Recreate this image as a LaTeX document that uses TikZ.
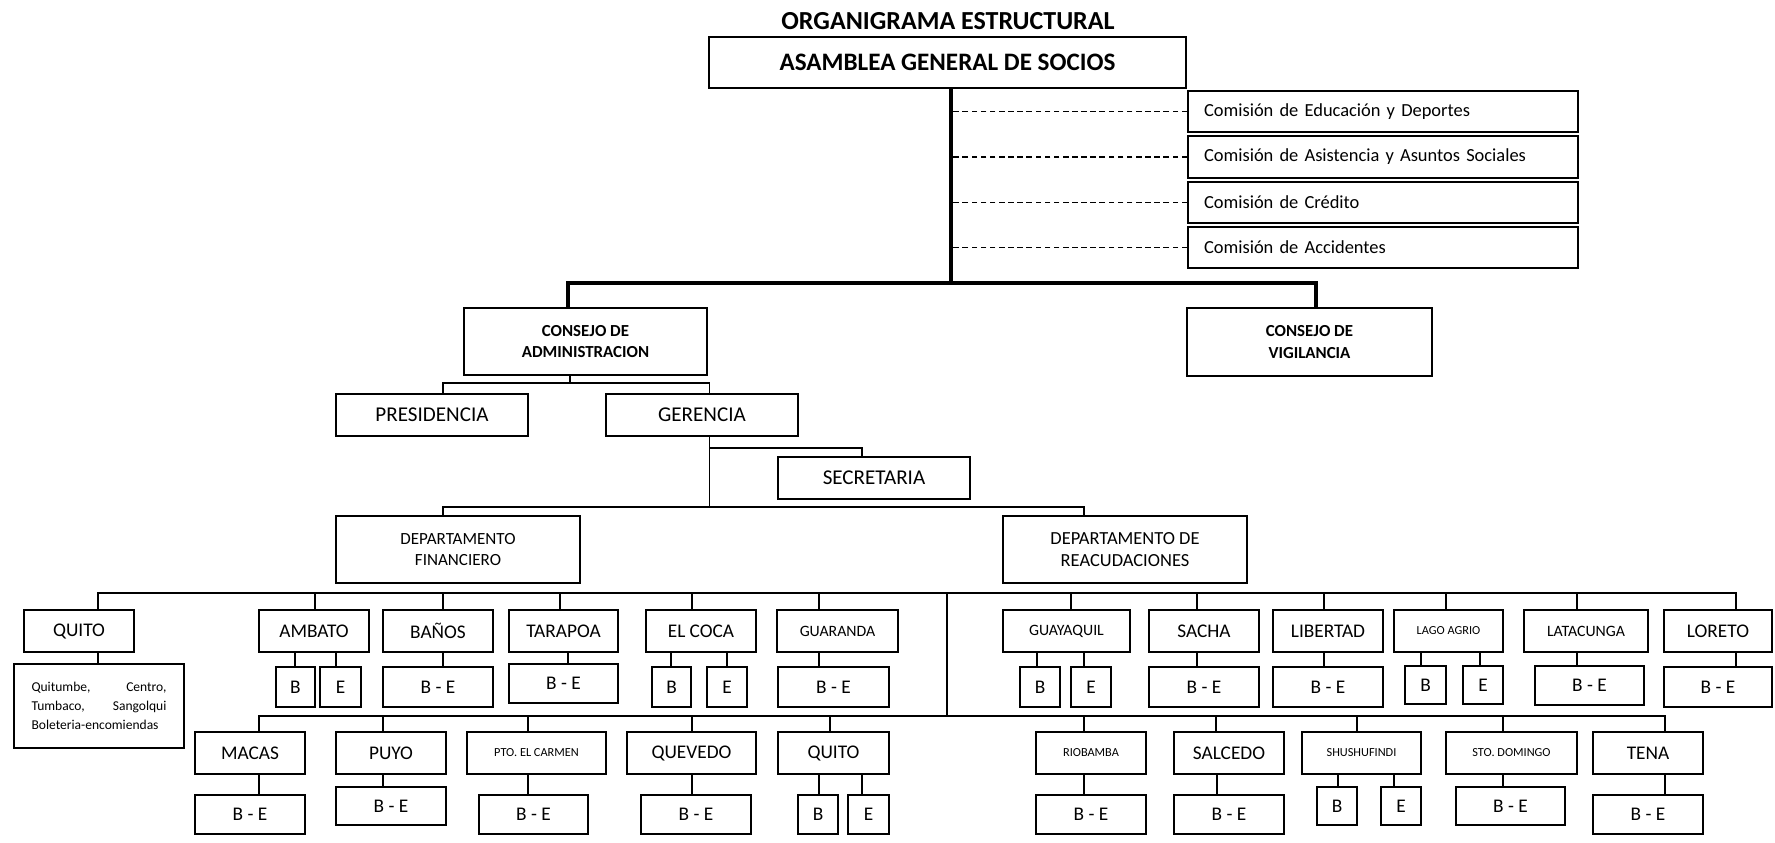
\documentclass[tikz,border=0pt]{standalone}
\usepackage{fontspec}
\setmainfont{Carlito}
\begin{document}
\begin{tikzpicture}[x=0.02cm,y=-0.02cm,
    caja/.style={draw,line width=0.8pt,inner sep=0pt,align=center},
    tam/.style 2 args={minimum width=#1*0.02cm,minimum height=#2*0.02cm},
    t12/.style={caja,font=\fontsize{12}{14}\selectfont},
    t11/.style={caja,font=\fontsize{11}{13}\selectfont},
    t9/.style={caja,font=\fontsize{9}{11}\selectfont},
    t7/.style={caja,font=\fontsize{7}{9}\selectfont},
    jefe/.style={caja,font=\bfseries\fontsize{9.6}{12}\selectfont},
    depto/.style={caja,font=\fontsize{9.7}{12}\selectfont},
    comision/.style={caja,align=left,text width=7.16cm,inner xsep=0.32cm,
      font=\fontsize{10.5}{12}\selectfont},
    linea/.style={line width=0.8pt},
    grueso/.style={line width=2.4pt},
    guion/.style={line width=0.8pt,dash pattern=on 3.2pt off 2pt}]
  \useasboundingbox (0,0) rectangle (1775,842);
  \node[font=\bfseries\fontsize{14.8}{17}\selectfont] (titulo) at (948,21)
    {ORGANIGRAMA ESTRUCTURAL};
  \node[caja,tam={477}{51},font=\bfseries\fontsize{14.3}{17}\selectfont]
    (asamblea) at (947.5,62.5) {ASAMBLEA GENERAL DE SOCIOS};
  \node[comision,tam={390}{41}] (com1) at (1383,111.5) {Comisión de Educación y Deportes};
  \node[comision,tam={390}{42}] (com2) at (1383,157) {Comisión de Asistencia y Asuntos Sociales};
  \node[comision,tam={390}{41}] (com3) at (1383,202.5) {Comisión de Crédito};
  \node[comision,tam={390}{41}] (com4) at (1383,247.5) {Comisión de Accidentes};
  \node[jefe,tam={243}{67}] (adm) at (585.5,341.5) {CONSEJO DE\\ADMINISTRACION};
  \node[jefe,tam={245}{68}] (vig) at (1309.5,342) {CONSEJO DE\\VIGILANCIA};
  \node[t12,tam={192}{42}] (pres) at (432,415) {PRESIDENCIA};
  \node[t12,tam={192}{42}] (ger) at (702,415) {GERENCIA};
  \node[t12,tam={192}{42}] (secr) at (874,478) {SECRETARIA};
  \node[depto,tam={244}{67}] (depfin) at (458,549.5) {DEPARTAMENTO\\FINANCIERO};
  \node[depto,tam={244}{67},font=\fontsize{10.5}{12.5}\selectfont] (deprec) at (1125,549.5)
    {DEPARTAMENTO DE\\REACUDACIONES};

  \coordinate (tronco) at (951,283);
  \coordinate (busI) at (568,283);
  \coordinate (busD) at (1316,283);
  \draw[grueso] (asamblea.south -| tronco) -- (tronco);
  \draw[grueso] (adm.north -| busI) -- (busI) -- (busD) -- (vig.north -| busD);
  \draw[guion] (com1.west) -- (com1.west -| tronco);
  \draw[guion] (com2.west) -- (com2.west -| tronco);
  \draw[guion] (com3.west) -- (com3.west -| tronco);
  \draw[guion] (com4.west) -- (com4.west -| tronco);

  \coordinate (nivel1) at (570,383);
  \coordinate (ramal) at (709.5,448);
  \coordinate (nivel2) at (709.5,507);
  \draw[linea] (adm.south -| nivel1) -- (nivel1);
  \draw[linea] (pres.north -| 443,0) |- (nivel1) -| (ger.north -| 709.5,0);
  \draw[linea] (ger.south -| nivel2) -- (nivel2);
  \draw[linea] (ramal) -| (secr.north -| 862,0);
  \draw[linea] (depfin.north -| 443,0) |- (nivel2) -| (deprec.north -| 1084,0);

  \node[t11,tam={110}{42}] (quito) at (79,631) {QUITO};
  \node[t11,tam={110}{42}] (ambato) at (314,631) {AMBATO};
  \node[t11,tam={110}{42}] (banos) at (438,631) {BAÑOS};
  \node[t11,tam={109}{42}] (tarapoa) at (563.5,631) {TARAPOA};
  \node[t11,tam={110}{42}] (elcoca) at (701,631) {EL COCA};
  \node[t9,tam={121}{42}] (guaranda) at (837.5,631) {GUARANDA};
  \node[t9,tam={127}{42}] (guayaquil) at (1066.5,631) {GUAYAQUIL};
  \node[t11,tam={110}{42}] (sacha) at (1204,631) {SACHA};
  \node[t11,tam={110}{42}] (libertad) at (1328,631) {LIBERTAD};
  \node[t7,tam={109}{42}] (lagoagrio) at (1448.5,631) {LAGO AGRIO};
  \node[t9,tam={124}{42}] (latacunga) at (1586,631) {LATACUNGA};
  \node[t11,tam={108}{42}] (loreto) at (1718,631) {LORETO};

  \node[caja,tam={170}{84},align=left,text width=2.7cm,font=\fontsize{7.7}{11}\selectfont]
    (quitoLista) at (99,706) {Quitumbe,\hfill Centro,\\Tumbaco,\hfill Sangolqui\\Boleteria-encomiendas};
  \node[t11,tam={39}{40}] (ambatoB) at (295.5,687) {B};
  \node[t11,tam={41}{40}] (ambatoE) at (340.5,687) {E};
  \node[t11,tam={110}{40}] (banosBE) at (438,687) {B - E};
  \node[t11,tam={109}{39}] (tarapoaBE) at (563.5,683.5) {B - E};
  \node[t11,tam={39}{40}] (elcocaB) at (671.5,687) {B};
  \node[t11,tam={40}{40}] (elcocaE) at (727,687) {E};
  \node[t11,tam={111}{40}] (guarandaBE) at (833.5,687) {B - E};
  \node[t11,tam={40}{40}] (guayaquilB) at (1040,687) {B};
  \node[t11,tam={40}{40}] (guayaquilE) at (1091,687) {E};
  \node[t11,tam={110}{40}] (sachaBE) at (1204,687) {B - E};
  \node[t11,tam={110}{40}] (libertadBE) at (1328,687) {B - E};
  \node[t11,tam={41}{38}] (lagoB) at (1425.5,685) {B};
  \node[t11,tam={40}{38}] (lagoE) at (1483,685) {E};
  \node[t11,tam={109}{39}] (latacungaBE) at (1589.5,685.5) {B - E};
  \node[t11,tam={108}{40}] (loretoBE) at (1718,687) {B - E};

  \node[t11,tam={110}{42}] (macas) at (250,753) {MACAS};
  \node[t11,tam={110}{42}] (puyo) at (391,753) {PUYO};
  \node[t7,tam={139}{42}] (ptocarmen) at (536.5,753) {PTO. EL CARMEN};
  \node[t11,tam={129}{42}] (quevedo) at (691.5,753) {QUEVEDO};
  \node[t11,tam={111}{42}] (quitodos) at (833.5,753) {QUITO};
  \node[t7,tam={110}{42}] (riobamba) at (1091,753) {RIOBAMBA};
  \node[t11,tam={110}{42}] (salcedo) at (1229,753) {SALCEDO};
  \node[t7,tam={119}{42}] (shushufindi) at (1361.5,753) {SHUSHUFINDI};
  \node[t7,tam={131}{42}] (stodomingo) at (1511.5,753) {STO. DOMINGO};
  \node[t11,tam={110}{42}] (tena) at (1648,753) {TENA};

  \node[t11,tam={110}{39}] (macasBE) at (250,814.5) {B - E};
  \node[t11,tam={110}{38}] (puyoBE) at (391,806) {B - E};
  \node[t11,tam={109}{39}] (ptocarmenBE) at (533.5,814.5) {B - E};
  \node[t11,tam={110}{39}] (quevedoBE) at (696,814.5) {B - E};
  \node[t11,tam={40}{39}] (quitodosB) at (818,814.5) {B};
  \node[t11,tam={41}{39}] (quitodosE) at (868.5,814.5) {E};
  \node[t11,tam={110}{39}] (riobambaBE) at (1091,814.5) {B - E};
  \node[t11,tam={110}{39}] (salcedoBE) at (1229,814.5) {B - E};
  \node[t11,tam={40}{38}] (shushufindiB) at (1337,806) {B};
  \node[t11,tam={40}{38}] (shushufindiE) at (1401,806) {E};
  \node[t11,tam={109}{38}] (stodomingoBE) at (1510.5,806) {B - E};
  \node[t11,tam={110}{39}] (tenaBE) at (1648,814.5) {B - E};

  \coordinate (fila1) at (947,593);
  \coordinate (fila2) at (947,716);
  \draw[linea] (fila1) -- (fila2);
  \draw[linea] (quito.north -| 98,0) |- (fila1) -| (loreto.north -| 1736,0);
  \draw[linea] (fila1 -| 315,0) -- (ambato.north -| 315,0);
  \draw[linea] (fila1 -| 443,0) -- (banos.north -| 443,0);
  \draw[linea] (fila1 -| 560,0) -- (tarapoa.north -| 560,0);
  \draw[linea] (fila1 -| 692,0) -- (elcoca.north -| 692,0);
  \draw[linea] (fila1 -| 819,0) -- (guaranda.north -| 819,0);
  \draw[linea] (fila1 -| 1071,0) -- (guayaquil.north -| 1071,0);
  \draw[linea] (fila1 -| 1197,0) -- (sacha.north -| 1197,0);
  \draw[linea] (fila1 -| 1324,0) -- (libertad.north -| 1324,0);
  \draw[linea] (fila1 -| 1446,0) -- (lagoagrio.north -| 1446,0);
  \draw[linea] (fila1 -| 1577,0) -- (latacunga.north -| 1577,0);

  \draw[linea] (quito.south -| 98,0) -- (quitoLista.north -| 98,0);
  \draw[linea] (ambato.south -| 295,0) -- (ambatoB.north -| 295,0);
  \draw[linea] (ambato.south -| 336,0) -- (ambatoE.north -| 336,0);
  \draw[linea] (banos.south -| 443,0) -- (banosBE.north -| 443,0);
  \draw[linea] (tarapoa.south -| 568,0) -- (tarapoaBE.north -| 568,0);
  \draw[linea] (elcoca.south -| 671,0) -- (elcocaB.north -| 671,0);
  \draw[linea] (elcoca.south -| 727,0) -- (elcocaE.north -| 727,0);
  \draw[linea] (guaranda.south -| 819,0) -- (guarandaBE.north -| 819,0);
  \draw[linea] (guayaquil.south -| 1037,0) -- (guayaquilB.north -| 1037,0);
  \draw[linea] (guayaquil.south -| 1084,0) -- (guayaquilE.north -| 1084,0);
  \draw[linea] (sacha.south -| 1197,0) -- (sachaBE.north -| 1197,0);
  \draw[linea] (libertad.south -| 1324,0) -- (libertadBE.north -| 1324,0);
  \draw[linea] (lagoagrio.south -| 1421,0) -- (lagoB.north -| 1421,0);
  \draw[linea] (lagoagrio.south -| 1480,0) -- (lagoE.north -| 1480,0);
  \draw[linea] (latacunga.south -| 1577,0) -- (latacungaBE.north -| 1577,0);
  \draw[linea] (loreto.south -| 1736,0) -- (loretoBE.north -| 1736,0);

  \draw[linea] (macas.north -| 259,0) |- (fila2) -| (tena.north -| 1665,0);
  \draw[linea] (fila2 -| 383,0) -- (puyo.north -| 383,0);
  \draw[linea] (fila2 -| 528,0) -- (ptocarmen.north -| 528,0);
  \draw[linea] (fila2 -| 692,0) -- (quevedo.north -| 692,0);
  \draw[linea] (fila2 -| 830,0) -- (quitodos.north -| 830,0);
  \draw[linea] (fila2 -| 1084,0) -- (riobamba.north -| 1084,0);
  \draw[linea] (fila2 -| 1216,0) -- (salcedo.north -| 1216,0);
  \draw[linea] (fila2 -| 1357,0) -- (shushufindi.north -| 1357,0);
  \draw[linea] (fila2 -| 1503,0) -- (stodomingo.north -| 1503,0);

  \draw[linea] (macas.south -| 259,0) -- (macasBE.north -| 259,0);
  \draw[linea] (puyo.south -| 383,0) -- (puyoBE.north -| 383,0);
  \draw[linea] (ptocarmen.south -| 528,0) -- (ptocarmenBE.north -| 528,0);
  \draw[linea] (quevedo.south -| 692,0) -- (quevedoBE.north -| 692,0);
  \draw[linea] (quitodos.south -| 819,0) -- (quitodosB.north -| 819,0);
  \draw[linea] (quitodos.south -| 862,0) -- (quitodosE.north -| 862,0);
  \draw[linea] (riobamba.south -| 1084,0) -- (riobambaBE.north -| 1084,0);
  \draw[linea] (salcedo.south -| 1217,0) -- (salcedoBE.north -| 1217,0);
  \draw[linea] (shushufindi.south -| 1338,0) -- (shushufindiB.north -| 1338,0);
  \draw[linea] (shushufindi.south -| 1394,0) -- (shushufindiE.north -| 1394,0);
  \draw[linea] (stodomingo.south -| 1503,0) -- (stodomingoBE.north -| 1503,0);
  \draw[linea] (tena.south -| 1665,0) -- (tenaBE.north -| 1665,0);
\end{tikzpicture}
\end{document}
